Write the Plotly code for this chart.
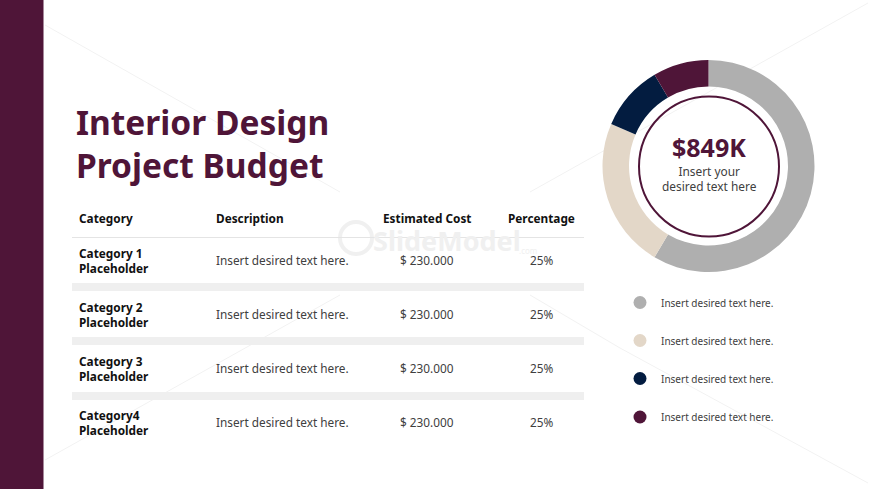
import plotly.graph_objects as go

# Data
title_lines = ["Interior Design", "Project Budget"]
headers = ["Category", "Description", "Estimated Cost", "Percentage"]
categories = ["Category 1<br>Placeholder", "Category 2<br>Placeholder",
              "Category 3<br>Placeholder", "Category4<br>Placeholder"]
descriptions = ["Insert desired text here."] * 4
costs = ["$ 230.000"] * 4
percentages = ["25%"] * 4

slice_labels = ["Gray", "Beige", "Navy", "Plum"]
slice_values = [58.5, 23, 10, 8.5]
slice_colors = ["#AFAFAF", "#E3D7C8", "#031C40", "#4F1538"]
legend_labels = ["Insert desired text here."] * 4

W, H = 870, 489
PLUM = "#4F1538"
FONT = "Noto Sans"

fig = go.Figure()

# donut
fig.add_trace(go.Pie(
    labels=slice_labels, values=slice_values, sort=False, direction="clockwise",
    rotation=0, hole=0.75, textinfo="none", showlegend=False,
    marker=dict(colors=slice_colors, line=dict(width=0)),
    domain=dict(x=[602.5 / W, 814.5 / W], y=[1 - 272 / H, 1 - 60 / H]),
))

# legend dots on a hidden full-page axis
legend_y = [302.5, 340.5, 378.5, 417]
fig.add_trace(go.Scatter(
    x=[640] * 4, y=legend_y, mode="markers", showlegend=False,
    marker=dict(size=13, color=slice_colors),
))

fig.update_xaxes(range=[0, W], visible=False, domain=[0, 1])
fig.update_yaxes(range=[H, 0], visible=False, domain=[0, 1])


def label(x, y, text, size, color="#222222", bold=False, anchor="left"):
    fig.add_annotation(
        x=x, y=y, text=f"<b>{text}</b>" if bold else text, showarrow=False,
        xanchor=anchor, yanchor="middle", align=anchor,
        font=dict(family=FONT, size=size, color=color),
    )


# faint watermark lines
for x0, y0, x1, y1 in [(45, 25, 340, 192), (530, 192, 868, 3), (45, 460, 340, 295),
                       (530, 295, 620, 348), (620, 348, 868, 483)]:
    fig.add_shape(type="line", x0=x0, y0=y0, x1=x1, y1=y1, layer="below",
                  line=dict(color="#F2F2F2", width=1))

# sidebar
fig.add_shape(type="rect", x0=0, x1=43.5, y0=0, y1=H, fillcolor=PLUM, line_width=0)

# table rules
fig.add_shape(type="line", x0=72, x1=584, y0=237.5, y1=237.5, line=dict(color="#E4E4E4", width=1))
for y in [287, 341, 396]:
    fig.add_shape(type="rect", x0=72, x1=584, y0=y - 4, y1=y + 4, fillcolor="#EFEFEF", line_width=0)

# ring inside the donut
fig.add_shape(type="circle", x0=639, x1=779, y0=96.5, y1=236.5, line=dict(color=PLUM, width=2))

# watermark logo and name
fig.add_shape(type="circle", x0=340, x1=372, y0=222, y1=254, layer="below",
              line=dict(color="#F0F0F0", width=4))
label(371, 240, "SlideModel", 27, color="#F0F0F0", bold=True)
label(517, 250, ".com", 8, color="#F0F0F0")

for y, line in zip([121.5, 164.5], title_lines):
    label(74, y, line, 33.5, color=PLUM, bold=True)

header_x = [77, 213.5, 426.5, 541.5]
header_anchor = ["left", "left", "center", "center"]
for x, text, anchor in zip(header_x, headers, header_anchor):
    label(x, 218, text, 11.8, color="#111111", bold=True, anchor=anchor)

row_y = [260, 314, 368, 422]
for y, cat, desc, cost, pct in zip(row_y, categories, descriptions, costs, percentages):
    label(77, y, cat, 11.8, color="#111111", bold=True)
    label(213.5, y, desc, 11.8, color="#404040")
    label(426.5, y, cost, 11.8, color="#404040", anchor="center")
    label(541.5, y, pct, 11.8, color="#404040", anchor="center")

label(709, 146.5, "$849K", 25, color=PLUM, bold=True, anchor="center")
label(709, 178, "Insert your<br>desired text here", 11.9, color="#404040", anchor="center")

for y, text in zip(legend_y, legend_labels):
    label(658.5, y, text, 10, color="#404040")

fig.update_layout(
    width=W, height=H, margin=dict(l=0, r=0, t=0, b=0),
    paper_bgcolor="white", plot_bgcolor="rgba(0,0,0,0)",
)

# the page's default body margin would push the slide 8px off
fig.write_html("out.html", config={"displayModeBar": False},
               post_script="document.body.style.margin='0';")
